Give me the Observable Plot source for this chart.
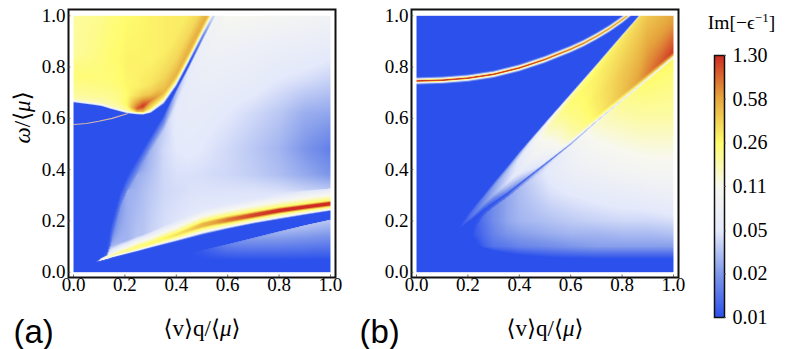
<!DOCTYPE html>
<html><head><meta charset="utf-8">
<style>html,body{margin:0;background:#fff}#w{position:relative;width:789px;height:349px;overflow:hidden}#w>svg{position:absolute;top:0;background:transparent}</style>
<script src="https://cdn.jsdelivr.net/npm/d3@7"></script>
<script src="https://cdn.jsdelivr.net/npm/@observablehq/plot@0.6"></script>
</head><body><div id="w"></div>
<script>
// ---- tick labels and text
const axisTicks=[0,.2,.4,.6,.8,1];
const scaleStops=[.01,.0225,.05,.114,.256,.577,1.3];
const scaleColors=["#2b50ec","#7f98ea","#e4e9fb","#f8f8f0","#fffc6e","#e6a83e","#cf2b22"];
const xLabel="⟨v⟩q/⟨μ⟩", yLabel="ω/⟨μ⟩", barTitle="Im[−ϵ-1]";

// ---- panel (a): values. Columns at aQ, feature curves in ω, intensities per column
const aQ=[0,.0856,.11,.13,.142,.15,.183,.21,.248,.27,.3,.351,.4,.45,.5,.5525,.6,.7,.8,.9,1];
const aFloor=[.03,.03,.03,.03,.03,.03,.04,.046,.046,.046,.046,.046,.046,.046,.046,.046,.046,.046,.046,.046,.046];
const aPaleTop=[.035,.035,.035,.035,.035,.035,.05,.055,.058,.06,.062,.066,.07,.075,.085,.097,.108,.133,.158,.182,.204];
const aPaleV=[.01,.01,.01,.01,.01,.01,.01,.01,.01,.01,.01,.01,.01,.01,.011,.014,.018,.024,.03,.034,.036];
const aBandEdge=[.039,.039,.045,.05,.053,.056,.064,.071,.08,.086,.094,.107,.119,.132,.145,.157,.168,.188,.205,.222,.238];
const aBand=[.039,.039,.05,.058,.064,.067,.078,.085,.098,.104,.113,.13,.146,.165,.183,.195,.204,.222,.24,.254,.267];
const aBandPeak=[.01,.01,.1,.14,.16,.17,.2,.22,.23,.24,.25,.27,.32,.38,.5,.6,.8,1.1,1.3,1.3,1.3];
const aBandTopV=[.01,.01,.05,.06,.06,.07,.09,.1,.11,.11,.11,.11,.11,.11,.11,.11,.11,.11,.11,.11,.11];
const aBandYellow=[0,0,.002,.002,.002,.002,.003,.003,.004,.004,.004,.006,.008,.011,.014,.015,.016,.015,.014,.013,.013];
const aBandWhite=[0,0,.006,.008,.01,.011,.013,.015,.017,.018,.02,.025,.028,.032,.035,.036,.037,.037,.036,.036,.035];
const aHaloV=[.01,.01,.02,.03,.03,.03,.03,.03,.035,.035,.04,.045,.048,.05,.05,.05,.05,.05,.05,.05,.045];
const aFanEdge=[.039,.039,.06,.085,.15,.19,.307,.37,.436,.474,.525,.605,.705,.80,.90,1.0,1.09,1.3,1.5,1.7,1.9];
const aFanEdgeV=[.01,.01,.01,.01,.011,.011,.011,.011,.011,.011,.011,.013,.03,.05,.07,.1,.1,.1,.1,.1,.1];
const aFanInnerV=[.01,.01,.012,.014,.014,.016,.018,.02,.022,.024,.028,.035,.05,.06,.07,.08,.1,.1,.1,.1,.1];
const aLevels=[.32,.38,.48,.62,.75,.9,1.02];
const aLevel32=[.01,.01,.012,.015,.016,.018,.022,.028,.03,.033,.036,.042,.044,.046,.047,.047,.047,.047,.045,.04,.035];
const aLevel38=[.01,.01,.012,.015,.016,.018,.02,.022,.028,.03,.034,.042,.046,.046,.045,.043,.042,.038,.033,.027,.022];
const aLevel48=[.01,.01,.012,.015,.016,.018,.02,.02,.022,.024,.03,.043,.05,.052,.05,.046,.043,.036,.03,.022,.017];
const aLevel62=[.01,.01,.012,.014,.014,.016,.018,.02,.022,.024,.03,.038,.055,.058,.056,.053,.05,.043,.036,.028,.026];
const aLevel75=[.01,.01,.012,.014,.014,.016,.018,.02,.022,.024,.03,.038,.05,.06,.065,.065,.062,.058,.05,.045,.04];
const aLevel90=[.01,.01,.012,.014,.014,.016,.018,.02,.022,.024,.03,.038,.05,.06,.07,.08,.08,.075,.07,.068,.062];
const aLevel102=[.01,.01,.012,.014,.014,.016,.018,.02,.022,.024,.03,.038,.05,.06,.07,.08,.12,.11,.1,.095,.088];
const aCoreV=[.01,.01,.01,.01,.01,.01,.01,.01,.01,.01,.01,.01,.01,.01,.015,.04,.1,.1,.1,.1,.1];
const aTop=[.661,.65,.646,.64,.636,.634,.625,.618,.614,.613,.62,.655,.725,.82,.92,1.02,1.11,1.32,1.52,1.72,1.92];
const aTopV=[.01,.01,.01,.01,.01,.01,.01,.01,.01,.01,.01,.01,.01,.01,.02,.06,.1,.1,.1,.1,.1];
const aFringe1=[.006,.006,.006,.006,.006,.006,.006,.006,.006,.006,.007,.012,.012,.012,.012,.012,.012,.012,.012,.012,.012];
const aFringe2=[.014,.014,.014,.014,.014,.014,.014,.014,.012,.012,.018,.026,.026,.026,.026,.026,.026,.026,.026,.026,.026];
const aFringe2V=[.17,.17,.17,.17,.17,.17,.18,.2,.5,.45,.3,.3,.32,.35,.38,.4,.4,.4,.4,.4,.4];
const aRidgeOff=[.04,.04,.04,.04,.04,.04,.04,.03,.024,.034,.05,.045,.045,.045,.045,.045,.045,.045,.045,.045,.045];
const aRidgeV=[.2,.2,.2,.2,.2,.2,.22,.28,.95,1.25,.75,.5,.52,.55,.55,.55,.55,.55,.55,.55,.55];
const aOver07V=[.22,.22,.22,.22,.22,.22,.23,.26,.34,.42,.42,.42,.44,.46,.46,.46,.46,.46,.46,.46,.46];
const aOver11V=[.24,.24,.24,.24,.24,.24,.25,.27,.28,.3,.32,.36,.36,.36,.36,.36,.36,.36,.36,.36,.36];
const aOver20V=[.19,.22,.23,.24,.25,.25,.26,.28,.28,.28,.28,.29,.3,.3,.3,.3,.3,.3,.3,.3,.3];
const aCeilV=[.19,.2,.21,.22,.23,.23,.24,.25,.26,.27,.28,.29,.3,.3,.3,.3,.3,.3,.3,.3,.3];
const aArcQ=[0,.05,.098,.15,.209];
const aArcW=[.576,.58,.589,.6,.618];

// ---- panel (b)
const bQ=[0,.1,.158,.2,.216,.235,.26,.3,.353,.4,.52,.6,.7,.8,.864,.9,1];
const bLine=[.163,.163,.163,.19,.203,.218,.24,.27,.306,.343,.437,.50,.588,.672,.725,.755,.839];
const bWedge=[.163,.163,.163,.225,.245,.27,.3,.35,.412,.47,.607,.697,.811,.927,1.0,1.04,1.155];
const bArcQ=[0,.1,.2,.3,.4,.5,.6,.65,.7,.75,.8,.85,.9,1];
const bArc=[.746,.749,.757,.772,.797,.83,.87,.893,.92,.95,.985,1.025,1.07,1.16];
const bArcPeak=[1.3,1.3,1.3,1.3,1.3,1.1,.9,.85,.75,.7,.65,.6,.6,.6];
const bFanLow=[.143,.143,.143,.143,.143,.112,.095,.082,.073,.066,.056,.053,.052,.052,.052,.052,.052];
const bFanHigh=[.143,.143,.143,.143,.143,.185,.222,.254,.292,.329,.425,.488,.576,.66,.713,.743,.827];
const bFanHighV=[.01,.01,.01,.01,.01,.011,.012,.014,.018,.025,.045,.08,.13,.2,.23,.25,.27];
const bLevels=[.1,.15,.2,.3,.4,.6,.8];
const bLevel10=[.01,.01,.01,.01,.01,.01,.012,.015,.016,.018,.02,.022,.024,.024,.024,.024,.024];
const bLevel15=[.01,.01,.01,.01,.01,.012,.014,.018,.022,.024,.028,.03,.03,.032,.032,.032,.034];
const bLevel20=[.01,.01,.01,.01,.01,.012,.015,.02,.026,.03,.034,.037,.04,.042,.042,.042,.045];
const bLevel30=[.01,.01,.01,.01,.01,.012,.015,.02,.026,.032,.045,.05,.055,.06,.062,.065,.07];
const bLevel40=[.01,.01,.01,.01,.01,.012,.015,.02,.026,.032,.055,.07,.08,.09,.095,.1,.1];
const bLevel60=[.01,.01,.01,.01,.01,.011,.012,.015,.02,.03,.05,.08,.14,.17,.18,.18,.18];
const bLevel80=[.01,.01,.01,.01,.01,.011,.012,.015,.02,.03,.05,.08,.13,.2,.23,.25,.25];
const bLineBelowV=[.01,.01,.01,.01,.01,.01,.011,.012,.014,.02,.04,.08,.14,.2,.22,.24,.25];
const bLineCoreV=[.01,.01,.01,.01,.01,.01,.01,.01,.01,.01,.012,.018,.03,.04,.042,.045,.05];
const bLineAboveV=[.01,.01,.01,.01,.011,.011,.012,.014,.018,.025,.06,.09,.16,.25,.3,.35,.5];
const bRidgeV=[.01,.01,.01,.012,.014,.015,.016,.02,.028,.035,.08,.16,.28,.45,.6,.75,1.2];
const bMidV=[.01,.01,.01,.014,.016,.018,.022,.03,.045,.06,.11,.2,.3,.42,.5,.6,.65];
const bUpperV=[.01,.01,.01,.012,.014,.015,.018,.024,.035,.05,.17,.25,.28,.34,.4,.45,.45];
const bEdgeV=[.01,.01,.01,.012,.012,.013,.014,.018,.025,.03,.1,.18,.25,.3,.35,.4,.4];

// ---- helpers: a rail is a curve in ω across columns with an intensity at each column
const rail=(w,v,Q)=>({w,Q,v:(typeof v==="number"?w.map(()=>v):v).map(d=>Math.log(d))});
function sampler(Q,rails){
  return (q,w)=>{
    let pw=-Infinity,pv=rails[0].v[0],first=true;
    for(const r of rails){
      const C=r.Q||Q;
      let i=d3.bisectRight(C,q)-1; i=Math.max(0,Math.min(C.length-2,i));
      const t=(q-C[i])/(C[i+1]-C[i]);
      const rw=r.w[i]+(r.w[i+1]-r.w[i])*t, rv=r.v[i]+(r.v[i+1]-r.v[i])*t;
      if(w<=rw){
        if(first||rw<=pw) return Math.exp(rv);
        return Math.exp(pv+(rv-pv)*(w-pw)/(rw-pw));
      }
      first=false;
      if(rw>pw){pw=rw;pv=rv;} else {pv=rv;}
    }
    return Math.exp(pv);
  };
}
const mapA=f=>aQ.map((_,i)=>f(i));
const aWU=mapA(i=>aBand[i]+aBandWhite[i]);
const aEI=mapA(i=>Math.max(aWU[i],aFanEdge[i]-.05));
const aCore=mapA(i=>Math.min(.005,.35*aBandYellow[i]));
const aRails=[
  rail(aQ.map(()=>-1),.01), rail(aFloor,.01), rail(aPaleTop,aPaleV), rail(aPaleTop.map(d=>d+.002),.01),
  rail(aBandEdge,.01),
  rail(mapA(i=>aBandEdge[i]+.45*(aBand[i]-aBandYellow[i]-aBandEdge[i])),aBandPeak.map(d=>Math.min(d,.11))),
  rail(mapA(i=>aBand[i]-aBandYellow[i]),aBandPeak.map(d=>Math.min(d,.24))),
  rail(mapA(i=>aBand[i]-aCore[i]),aBandPeak),
  rail(mapA(i=>aBand[i]+aCore[i]),aBandPeak),
  rail(mapA(i=>aBand[i]+aBandYellow[i]),aBandPeak.map(d=>Math.min(d,.26))),
  rail(aWU,aBandTopV),
  rail(mapA(i=>Math.min(aWU[i]+.025,aEI[i])),aHaloV),
  ...[aLevel32,aLevel38,aLevel48,aLevel62,aLevel75,aLevel90,aLevel102].map((v,k)=>rail(mapA(i=>Math.max(Math.min(aLevels[k],aEI[i]),Math.min(aWU[i]+.025,aEI[i]))),v)),
  rail(aEI,aFanInnerV),
  rail(aFanEdge,aFanEdgeV),
  rail(mapA(i=>aFanEdge[i]+.006),aCoreV),
  rail(aTop,aTopV),
  rail(mapA(i=>aTop[i]+aFringe1[i]),.1),
  rail(mapA(i=>aTop[i]+aFringe2[i]),aFringe2V),
  rail(mapA(i=>aTop[i]+aRidgeOff[i]),aRidgeV),
  rail(aTop.map(d=>d+.075),aOver07V),
  rail(aTop.map(d=>d+.11),aOver11V),
  rail(aTop.map(d=>d+.2),aOver20V),
  rail(aTop.map(d=>Math.max(1.05,d+.21)),aCeilV)
];
const mapB=f=>bQ.map((_,i)=>f(i));
const gap=i=>bWedge[i]-bLine[i];
const bRails=[
  rail(bQ.map(()=>-1),.01), rail(bFanLow,.01),
  ...[bLevel10,bLevel15,bLevel20,bLevel30,bLevel40,bLevel60,bLevel80].map((v,k)=>rail(mapB(i=>Math.max(bFanLow[i],Math.min(bLevels[k],bFanHigh[i]))),v)),
  rail(bFanHigh,bFanHighV),
  rail(mapB(i=>Math.max(bFanHigh[i],bLine[i]-.006)),bLineBelowV),
  rail(bLine,bLineCoreV),
  rail(mapB(i=>bLine[i]+Math.min(.006,.15*gap(i))),bLineAboveV),
  rail(mapB(i=>bLine[i]+Math.min(.02,.25*gap(i))),bRidgeV),
  rail(mapB(i=>bLine[i]+.4*gap(i)),bMidV),
  rail(mapB(i=>bLine[i]+.8*gap(i)),bUpperV),
  rail(mapB(i=>bWedge[i]-Math.min(.008,.1*gap(i))),bEdgeV),
  rail(bWedge,.01),
  ...[[-.016,.01],[-.012,.02],[-.007,.08],[-.004,.3]].map(([o,v])=>rail(bArc.map(d=>d+o),v,bArcQ)),
  rail(bArc.map(d=>d-.0015),bArcPeak,bArcQ), rail(bArc.map(d=>d+.0015),bArcPeak,bArcQ),
  ...[[.004,.3],[.007,.08],[.012,.02],[.016,.01]].map(([o,v])=>rail(bArc.map(d=>d+o),v,bArcQ)),
  rail(bQ.map(()=>3),.01)
];

// ---- drawing
const serif='"Liberation Serif","DejaVu Serif",serif';
const colorScale={type:"log",domain:scaleStops,range:scaleColors,clamp:true};
function rich(svg,match,parts){
  for(const t of svg.querySelectorAll("text")){
    if(t.textContent!==match) continue;
    t.textContent="";
    for(const [s,st] of parts){
      const sp=document.createElementNS("http://www.w3.org/2000/svg","tspan");
      sp.textContent=s;
      for(const k in st||{}) sp.setAttribute(k,st[k]);
      t.appendChild(sp);
    }
  }
}
function panel(Q,rails,letter,left,width,marginLeft,letterDx,withY,extra=[]){
  const marks=[
    Plot.raster({x1:0,y1:0,x2:1,y2:1,fill:sampler(Q,rails),pixelSize:1}),
    ...extra,
    Plot.frame({stroke:"#111",strokeWidth:2}),
    Plot.ruleX(axisTicks,{x:d=>d,y1:-.0207,y2:-.011,stroke:"#444",strokeWidth:.8}),
    Plot.ruleY(axisTicks,{y:d=>d,x1:-.0195,x2:-.0105,stroke:"#444",strokeWidth:.8}),
    Plot.axisX(axisTicks,{tickSize:0,tickPadding:0,tickFormat:d3.format(".1f"),label:null}),
    Plot.axisY(axisTicks,{tickSize:0,tickPadding:3,tickFormat:d3.format(".1f"),label:null}),
    Plot.text([xLabel],{text:d=>d,frameAnchor:"bottom",dy:51,fontSize:23,lineAnchor:"middle"}),
    Plot.text([letter],{text:d=>d,frameAnchor:"bottom-left",dx:letterDx,dy:55,fontSize:33,fontFamily:'"Liberation Sans",Arial,sans-serif',textAnchor:"start",lineAnchor:"middle"})
  ];
  if(withY) marks.push(Plot.text([yLabel],{text:d=>d,frameAnchor:"left",dx:-46,rotate:-90,fontSize:23,lineAnchor:"middle"}));
  const svg=Plot.plot({width,height:349,marginLeft,marginRight:width-marginLeft-267,marginTop:9,marginBottom:72,
    x:{domain:[-.0195,1.0195],axis:null},y:{domain:[-.0207,1.0246],axis:null},color:colorScale,
    style:{fontFamily:serif,fontSize:"19px",background:"transparent",overflow:"visible"},marks});
  svg.style.left=left+"px";
  svg.querySelectorAll("image").forEach(im=>im.style.filter="blur(0.5px)");
  rich(svg,xLabel,[["⟨v⟩q/⟨"],["μ",{"font-style":"italic"}],["⟩"]]);
  rich(svg,yLabel,[["ω",{"font-style":"italic"}],["/⟨"],["μ",{"font-style":"italic"}],["⟩"]]);
  document.getElementById("w").appendChild(svg);
}
panel(aQ,aRails,"(a)",0,345,68,-55,true,[Plot.line(aArcQ,{x:d=>d,y:(d,i)=>aArcW[i],stroke:"#d6b6ac",strokeWidth:1.1})]);
panel(bQ,bRails,"(b)",350,335,61,-52,false);

const bar=Plot.plot({width:99,height:349,marginLeft:24,marginRight:65,marginTop:55,marginBottom:32,
  x:{domain:[0,1],axis:null},y:{type:"log",domain:[.01,1.3],axis:null},color:colorScale,
  style:{fontFamily:serif,fontSize:"20px",background:"transparent",overflow:"visible"},
  marks:[
    Plot.raster({x1:0,y1:.01,x2:1,y2:1.3,fill:(x,y)=>y,pixelSize:1}),
    Plot.frame({stroke:"#111",strokeWidth:1.5}),
    Plot.ruleY(scaleStops,{y:d=>d,x1:1,x2:1.2,stroke:"#555",strokeWidth:.8}),
    Plot.text(scaleStops,{y:d=>d,text:d3.format(".2f"),frameAnchor:"right",dx:8,textAnchor:"start",lineAnchor:"middle"}),
    Plot.text([barTitle],{text:d=>d,frameAnchor:"top",dx:22,dy:-33,fontSize:19.5,lineAnchor:"middle"})
  ]});
bar.style.left="690px";
rich(bar,barTitle,[["Im[−ϵ"],["−1",{"font-size":"13px",dy:"-7"}],["]",{dy:"7"}]]);
document.getElementById("w").appendChild(bar);
</script></body></html>
